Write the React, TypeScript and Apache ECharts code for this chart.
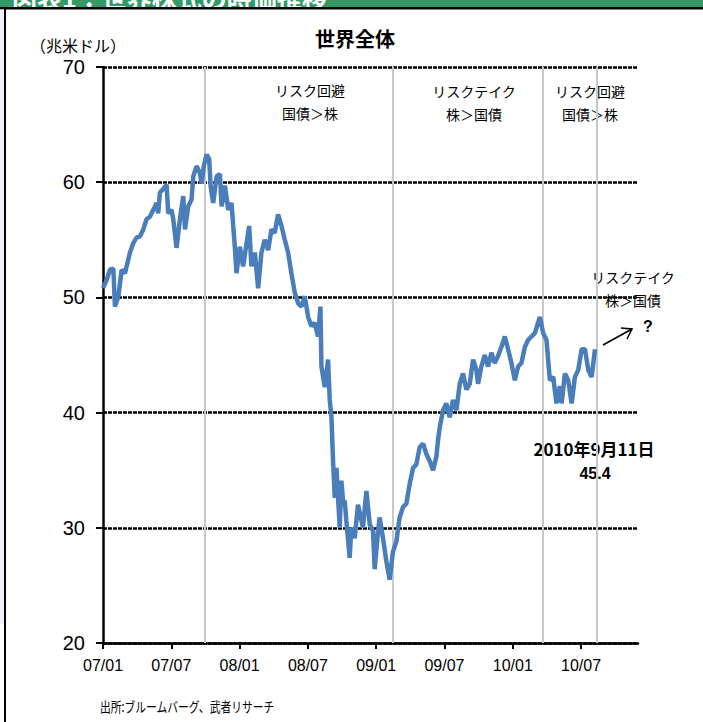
import React, { useEffect, useRef } from "react";
import * as echarts from "echarts";

// x position in months since Jan 2007 (axis unit)
const monthPos = [
  0, 0.32, 0.61, 0.91, 1.05, 1.35, 1.64, 1.93, 2.37, 2.66,
  2.95, 3.25, 3.54, 3.83, 4.12, 4.42, 4.71, 4.85, 5.0, 5.29,
  5.59, 5.73, 6.02, 6.17, 6.46, 6.76, 7.05, 7.2, 7.49, 7.78,
  7.93, 8.22, 8.51, 8.66, 8.86, 9.1, 9.33, 9.45, 9.68, 9.98,
  10.27, 10.42, 10.71, 11.0, 11.29, 11.44, 11.58, 11.73, 12.02, 12.31,
  12.61, 12.84, 13.04, 13.34, 13.63, 13.92, 14.21, 14.51, 14.8, 15.09,
  15.38, 15.68, 15.97, 16.26, 16.55, 16.85, 17.14, 17.43, 17.72, 18.02,
  18.31, 18.6, 18.89, 19.1,
  19.19, 19.48, 19.77, 19.92, 20.07, 20.21, 20.36, 20.51, 20.65, 20.8,
  20.94, 21.09, 21.24, 21.38, 21.67, 21.82, 22.11, 22.4,
  22.84, 23.14, 23.43, 23.72, 23.87, 24.16, 24.3, 24.6, 24.89, 25.18,
  25.47, 25.77, 26.06, 26.36, 26.65, 26.94, 27.24, 27.53, 27.82, 28.12,
  28.41, 28.7, 29.0, 29.29, 29.43, 29.58, 29.87, 30.16, 30.46, 30.75,
  31.05, 31.34, 31.63, 31.92, 32.22, 32.51, 32.8, 32.95, 33.24, 33.54,
  33.83, 34.12, 34.41, 34.7, 35.0, 35.3, 35.59, 35.88, 36.18, 36.47,
  36.76, 37.06, 37.35, 37.64, 37.94, 38.38, 38.67, 38.96, 39.26, 39.55,
  39.84, 40.14, 40.29, 40.58, 40.87, 41.17, 41.46, 41.75, 42.05, 42.34,
  42.63, 42.93, 43.22,
];

// world equity market value, trillion USD
const worldValue = [
  50.8, 51.5, 52.4, 52.5, 49.2, 50.1, 52.4, 52.1, 53.9, 54.7,
  55.2, 55.3, 55.9, 56.8, 57, 57.6, 58.2, 57.3, 59.1, 59.4,
  59.8, 57.3, 57.6, 56.8, 54.3, 56.8, 58.8, 55.9, 57.9, 58.5,
  60.5, 61.4, 60.8, 59.9, 61.4, 62.4, 62, 59.7, 58.2, 60.5,
  60.7, 57.9, 59.7, 57.6, 58.2, 56.2, 54.4, 52.1, 54.4, 52.7,
  54.7, 56.2, 52.7, 53.9, 50.8, 53.9, 55, 54.1, 55.9, 55.6,
  57.2, 56.2, 55, 53.9, 52.1, 50.4, 49.5, 49.2, 50.1, 48.3,
  47.5, 47.8, 46.6, 49.2,
  44, 42.2, 44.6, 41.1, 39.6, 35.8, 32.6, 35.2, 32.6, 30,
  34.1, 32.3, 32.3, 30.6, 27.4, 30, 29.1, 32,
  30, 33.2, 30.3, 29.7, 26.4, 29.7, 30.9, 29.1, 27.1, 25.5,
  27.9, 28.8, 30.9, 31.8, 32.1, 33.8, 35.2, 35.5, 37, 37.3,
  36.4, 35.8, 35, 36.2, 37.6, 38.7, 40.2, 40.8, 39.6, 41.1,
  40.2, 42.5, 43.4, 42, 42.5, 44.6, 43.7, 42.5, 44, 45,
  44, 45.2, 44.3, 44.9, 45.7, 46.6, 45.5, 44.3, 42.8, 44,
  44.3, 45.7, 46.3, 46.6, 46.9, 48.3, 46.9, 46.3, 42.8, 43.1,
  40.8, 42.3, 40.8, 43.4, 42.8, 40.8, 43.1, 43.7, 45.5, 45.5,
  43.7, 43.1, 45.5,
];

const xTickPos = [0, 6, 12, 18, 24, 30, 36, 42];
const xTickLabels = ["07/01", "07/07", "08/01", "08/07", "09/01", "09/07", "10/01", "10/07"];
const regimeChanges = [8.95, 25.47, 38.63, 43.4];

const LAT = "'Liberation Sans', Arial, 'Noto Sans CJK JP', sans-serif";
const CJK = "'Noto Sans CJK JP', 'Liberation Sans', sans-serif";

export default function App() {
  const ref = useRef<HTMLDivElement>(null);
  useEffect(() => {
    if (!ref.current) return;
    const chart = echarts.init(ref.current, null, { renderer: "svg" });
    const n = Math.min(monthPos.length, worldValue.length);
    const data = [];
    for (let i = 0; i < n; i++) data.push([monthPos[i], worldValue[i]]);

    const txt = (
      t: string,
      x: number,
      y: number,
      size: number,
      bold = false,
      family = CJK,
      align = "center",
      scaleX = 1
    ) => ({
      type: "text",
      x,
      y,
      scaleX,
      silent: true,
      style: {
        text: t,
        fill: "#000",
        font: `${bold ? "bold " : ""}${size}px ${family}`,
        textAlign: align,
        textVerticalAlign: "middle",
      },
    });

    chart.setOption({
      animation: false,
      backgroundColor: "#fff",
      grid: { left: 103, right: 65, top: 67, bottom: 79, containLabel: false },
      xAxis: {
        type: "value",
        min: 0,
        max: 47,
        splitLine: { show: false },
        axisLine: { show: true, lineStyle: { color: "#000", width: 2.5 } },
        axisTick: { show: true, length: 6, lineStyle: { color: "#000", width: 2 }, customValues: xTickPos },
        axisLabel: {
          customValues: xTickPos,
          margin: 14,
          fontSize: 16,
          fontFamily: LAT,
          color: "#000",
          formatter: (v: number) => {
            const i = xTickPos.indexOf(Math.round(v));
            return i >= 0 ? xTickLabels[i] : "";
          },
        },
      },
      yAxis: {
        type: "value",
        min: 20,
        max: 70,
        interval: 10,
        axisLine: { show: true, lineStyle: { color: "#000", width: 2.5 } },
        axisTick: { show: true, length: 7, lineStyle: { color: "#000", width: 2 } },
        axisLabel: { margin: 18, fontSize: 20, fontFamily: LAT, color: "#000" },
        splitLine: { show: true, lineStyle: { color: "#000", width: 2.5, type: [4, 1] } },
      },
      series: [
        {
          type: "line",
          data,
          showSymbol: false,
          symbol: "none",
          lineStyle: { color: "#4a7ebb", width: 4.5 },
          z: 3,
          markLine: {
            silent: true,
            symbol: "none",
            label: { show: false },
            lineStyle: { color: "#c8c8c8", width: 2, type: "solid" },
            data: regimeChanges.map((v) => ({ xAxis: v })),
            z: 1,
          },
        },
      ],
      graphic: [
        { type: "rect", shape: { x: 0, y: 0, width: 703, height: 7 }, style: { fill: "#339966" }, silent: true },
        {
          type: "text",
          x: 12,
          y: 9,
          silent: true,
          style: {
            text: "図表1：世界株式の時価推移",
            fill: "#fff",
            font: `bold 25px ${CJK}`,
            textAlign: "left",
            textVerticalAlign: "bottom",
          },
        },
        { type: "rect", shape: { x: 0, y: 7, width: 703, height: 2.5 }, style: { fill: "#000" }, silent: true },
        { type: "rect", shape: { x: 0, y: 9.5, width: 4, height: 614 }, style: { fill: "#eef0fa" }, silent: true },
        { type: "rect", shape: { x: 4, y: 9, width: 2, height: 713 }, style: { fill: "#000" }, silent: true },
        txt("世界全体", 355, 38, 20, true),
        txt("（兆米ドル）", 30, 45, 16, false, CJK, "left"),
        txt("リスク回避", 310, 90, 14),
        txt("国債＞株", 310, 113, 14),
        txt("リスクテイク", 474, 91, 14),
        txt("株＞国債", 474, 114, 14),
        txt("リスク回避", 590, 91, 14),
        txt("国債＞株", 590, 114, 14),
        txt("リスクテイク", 633, 277, 14),
        txt("株＞国債", 633, 300, 14),
        {
          type: "line",
          silent: true,
          shape: { x1: 603, y1: 345, x2: 632, y2: 329 },
          style: { stroke: "#000", lineWidth: 1.5 },
        },
        {
          type: "polyline",
          silent: true,
          shape: { points: [[621, 328], [632, 329], [627, 339]] },
          style: { stroke: "#000", lineWidth: 1.5, fill: null },
        },
        txt("?", 648, 326, 16, true, LAT),
        txt("2010年9月11日", 594, 448, 17, true),
        txt("45.4", 595, 473, 16, true, LAT),
        txt("出所:ブルームバーグ、武者リサーチ", 100, 706, 14, false, CJK, "left", 0.77),
      ],
    });
    return () => chart.dispose();
  }, []);
  return <div ref={ref} style={{ position: "fixed", left: 0, top: 0, width: 703, height: 722 }} />;
}
